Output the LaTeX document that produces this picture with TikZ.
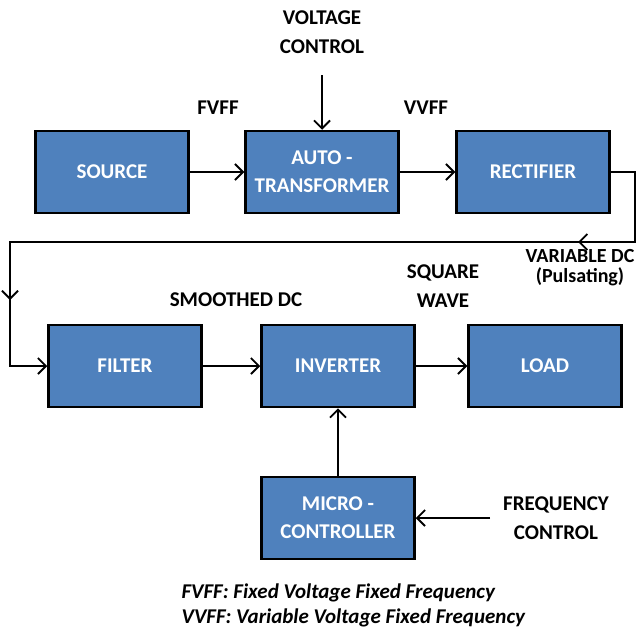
\documentclass[tikz,border=0pt]{standalone}
\usepackage{fontspec}
\setmainfont{Carlito}
\usetikzlibrary{arrows.meta}

\definecolor{blockblue}{HTML}{4F81BD}

\begin{document}
\begin{tikzpicture}[x=1pt,y=-1pt,
    block/.style={draw=black, line width=2.5pt, fill=blockblue, text=white,
      font=\bfseries\fontsize{21}{28}\selectfont, align=center,
      minimum width=153pt, minimum height=82pt, inner sep=0pt},
    lbl/.style={font=\bfseries\fontsize{21}{29}\selectfont, align=center},
    conn/.style={line width=1.8pt, -{Straight Barb[length=8pt,width=16pt]}}]
    \useasboundingbox (0,0) rectangle (641,629);

    % Blocks
    \node[block] (src)    at (112,172) {SOURCE};
    \node[block] (auto)   at (322,172) {AUTO -\\TRANSFORMER};
    \node[block] (rect)   at (533,172) {RECTIFIER};
    \node[block] (filter) at (125,366) {FILTER};
    \node[block] (inv)    at (338,366) {INVERTER};
    \node[block] (load)   at (545,366) {LOAD};
    \node[block] (micro)  at (338,518) {MICRO -\\CONTROLLER};

    % Labels
    \node[lbl] (vctrl) at (322,32) {VOLTAGE\\CONTROL};
    \node[lbl] (fvff)  at (218,108) {FVFF};
    \node[lbl] (vvff)  at (426,108) {VVFF};
    \node[lbl] (smdc)  at (236,300) {SMOOTHED DC};
    \node[lbl] (sqw)   at (443,286) {SQUARE\\WAVE};
    \node[lbl, font=\bfseries\fontsize{20}{20}\selectfont] (vdc) at (580,268) {VARIABLE DC\\(Pulsating)};
    \node[lbl] (fctrl) at (556,518) {FREQUENCY\\CONTROL};

    \coordinate (vin) at (322,75);
    \coordinate (fin) at (490,518);
    \coordinate (fbR) at (635,242);
    \coordinate (fbM) at (578,242);
    \coordinate (fbL) at (10,242);
    \coordinate (fbD) at (10,300);

    % Connectors
    \draw[conn] (vin) -- (auto.north);
    \draw[conn] (src.east) -- (auto.west);
    \draw[conn] (auto.east) -- (rect.west);
    \draw[conn] (rect.east) -| (fbR) -- (fbL) |- (filter.west);
    \draw[conn] (fbR) -- (fbM);
    \draw[conn] (fbL) -- (fbD);
    \draw[conn] (filter.east) -- (inv.west);
    \draw[conn] (inv.east) -- (load.west);
    \draw[conn] (micro.north) -- (inv.south);
    \draw[conn] (fin) -- (micro.east);

    % Legend
    \node[anchor=west, align=left, font=\bfseries\itshape\fontsize{21}{25}\selectfont] (legend) at (178,605)
      {FVFF: Fixed Voltage Fixed Frequency\\VVFF: Variable Voltage Fixed Frequency};
\end{tikzpicture}
\end{document}
